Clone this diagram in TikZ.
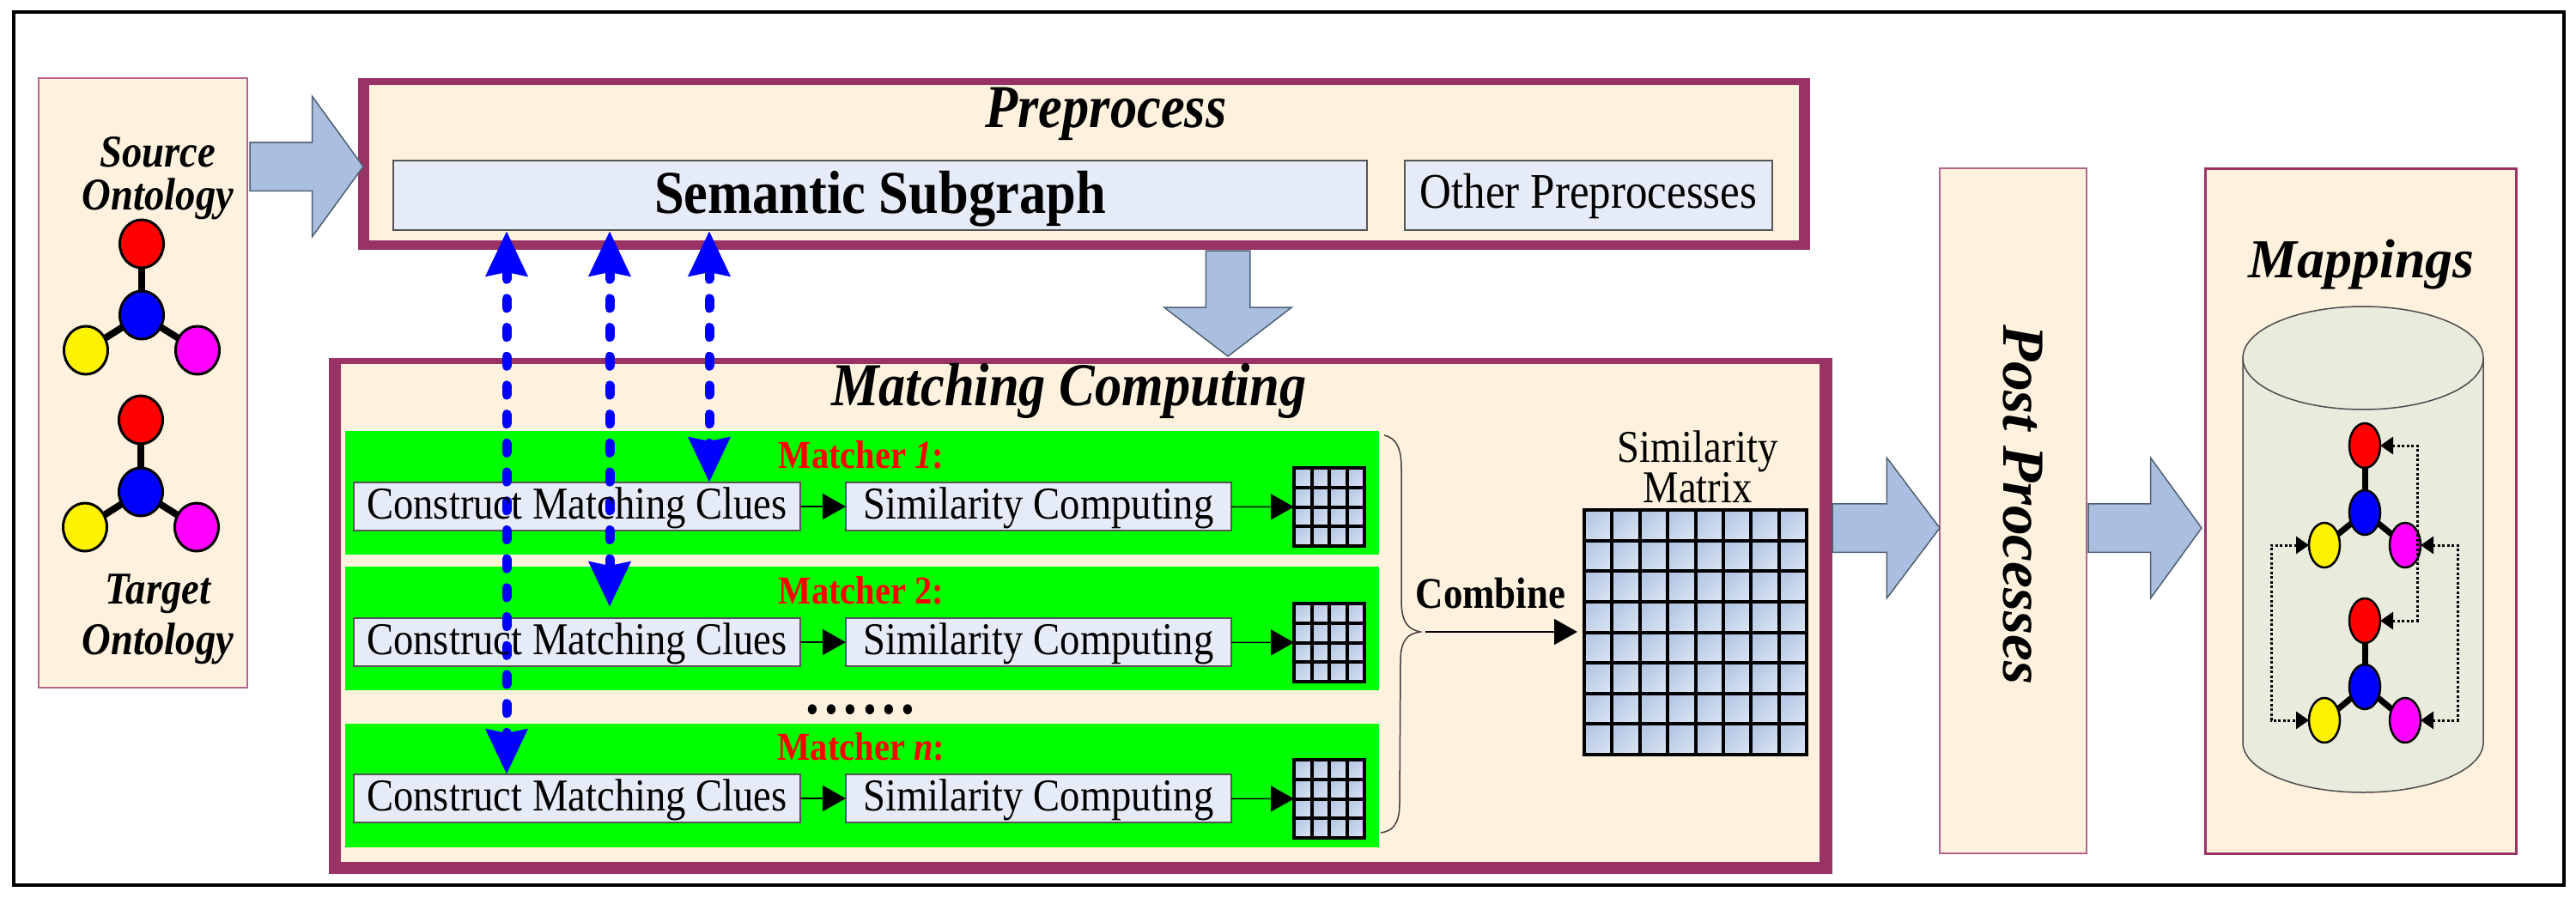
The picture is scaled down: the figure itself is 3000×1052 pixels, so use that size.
\documentclass[tikz,border=0pt]{standalone}
\usepackage{fontspec}
\usetikzlibrary{arrows.meta,calc,shapes.arrows,shapes.geometric}
\setmainfont[FakeStretch=0.88]{Liberation Serif}
\newfontfamily\widefont{Liberation Serif}
\definecolor{cream}{HTML}{FEF2DF}
\definecolor{plum}{HTML}{993366}
\definecolor{plumthin}{HTML}{B5648F}
\definecolor{steel}{HTML}{AABFE0}
\definecolor{steelline}{HTML}{4F5F72}
\definecolor{paleblue}{HTML}{E6ECF7}
\definecolor{boxline}{HTML}{555555}
\definecolor{storefill}{HTML}{E9EBDD}
\definecolor{celldark}{HTML}{B4C7E4}
\definecolor{celllight}{HTML}{D6E1F1}
\definecolor{pinkatom}{HTML}{FF00FF}
\begin{document}
\begin{tikzpicture}[
        x=1pt, y=-1pt, % one unit is one pixel of the reference
        every node/.style={outer sep=0pt, inner sep=0pt},
        corner/.style={anchor=north west},
        heavy/.style={corner, fill=plum}, % wide border, drawn as two rectangles
        heavyin/.style={corner, fill=cream},
        panel/.style={corner, draw=plumthin, line width=2.5pt, fill=cream},
        subbox/.style={corner, draw=boxline, line width=2pt, fill=paleblue, font=\fontsize{53}{53}\selectfont, text height=36pt, text depth=8pt},
        rowband/.style={corner, fill=green, minimum width=1204, minimum height=144},
        gridbox/.style={corner, draw=black, line width=4pt},
        gridcell/.style={draw=black, line width=4pt, top color=celldark, bottom color=celllight, shading angle=45},
        bigarrow/.style={single arrow, anchor=tip, draw=steelline, line width=1.5pt, fill=steel, inner ysep=27.5pt, single arrow head extend=53.5pt},
        dasharrow/.style={draw=blue, line width=11pt, line cap=round, dash pattern=on 11pt off 22.7pt,
                {Stealth[length=52pt, width=47pt, inset=4pt]}-{Stealth[length=52pt, width=47pt, inset=4pt]}},
        flow/.style={draw=black, line width=1.5pt, -{Triangle[length=27pt, width=30pt]}},
        linkarrow/.style={draw=black, line width=3pt, dash pattern=on 3pt off 2.5pt,
                {Triangle[length=15pt, width=20pt]}-{Triangle[length=15pt, width=20pt]}},
        atom/.style={ellipse, draw=black},
        title/.style={font=\fontsize{71}{71}\selectfont\bfseries\itshape},
        ontology/.style={align=center},
        matcher/.style={anchor=base, text=red, font=\fontsize{46}{46}\selectfont\bfseries},
    ]

    \useasboundingbox (0,0) rectangle (3000,1052);
    \node[corner, draw=black, line width=4pt, minimum width=2970, minimum height=1017] (frame) at (16,14) {};

    % left and right panels
    \node[panel, minimum width=243, minimum height=710] (onto) at (45,91) {};
    \node[panel, minimum width=171, minimum height=798] (post) at (2259,196) {};
    \node[panel, draw=plum, line width=3pt, minimum width=362, minimum height=798] (maps) at (2568,196) {};

    % preprocess
    \node[heavy, minimum width=1691, minimum height=200] (prep) at (417,91) {};
    \node[heavyin, minimum width=1665, minimum height=181] (prepin) at (430,99) {};
    \node[title] (preptitle) at (1288,133) {Preprocess};
    \node[subbox, minimum width=1134, minimum height=81, font=\fontsize{71}{71}\selectfont\bfseries, text height=50pt, text depth=9pt] (semantic) at (458,187) {Semantic Subgraph};
    \node[subbox, minimum width=428, minimum height=81, font=\fontsize{58}{58}\selectfont, text height=39pt, text depth=9pt] (other) at (1636,187) {Other Preprocesses};

    % matching computing
    \node[heavy, minimum width=1751, minimum height=601] (match) at (383,417) {};
    \node[heavyin, minimum width=1722, minimum height=580] (matchin) at (397,424) {};
    \node[title] (matchtitle) at (1245,455) {Matching Computing};

    \foreach \r/\by/\cy/\gy in {1/502/562/545, 2/660/720/703, 3/843/902/885} {
        \node[rowband] (band\r) at (402,\by) {};
        \node[subbox, minimum width=520, minimum height=56] (cons\r) at (412,\cy) {};
        \node[subbox, minimum width=449, minimum height=56] (simi\r) at (985,\cy) {Similarity Computing};
        \node[gridbox, minimum width=82, minimum height=91] (small\r) at (1507,\gy) {};
    }
    \node[gridbox, minimum width=259, minimum height=285] (bigm) at (1845,594) {};

    % all the grids, small ones and the large one
    \foreach \gx/\gy/\gw/\gh/\gn in {1507/545/20.5/22.75/3, 1507/703/20.5/22.75/3, 1507/885/20.5/22.75/3, 1845/594/32.375/35.625/7} {
        \foreach \i in {0,...,\gn} {
            \foreach \j in {0,...,\gn} {
                \draw[gridcell] (\gx+\i*\gw,\gy+\j*\gh) rectangle ++(\gw,\gh);
            }
        }
    }

    \foreach \r in {1,2,3} {
        \draw[flow] (cons\r) -- (simi\r);
        \draw[flow] (simi\r) -- (small\r);
    }

    % block arrows between the stages
    \node[bigarrow, minimum height=132, single arrow tip angle=108] (inarrow) at (423,194) {};
    \node[bigarrow, rotate=-90, minimum height=123, inner ysep=25pt, single arrow head extend=48.5pt, single arrow tip angle=105] (downarrow) at (1430,415) {};
    \node[bigarrow, minimum height=125, single arrow tip angle=106] (outarrow) at (2259,615) {};
    \node[bigarrow, minimum height=132, single arrow tip angle=108] (maparrow) at (2564,615) {};

    % links to the semantic subgraph
    \coordinate (linka) at (590,269);
    \coordinate (linkb) at (710,269);
    \coordinate (linkc) at (826,269);
    \draw[dasharrow] (linka) -- (linka |- cons3.north);
    \draw[dasharrow, shorten >=13pt] (linkb) -- (linkb |- cons2.north);
    \draw[dasharrow] (linkc) -- (linkc |- cons1.north);

    % text of the boxes comes over the links
    \foreach \r in {1,2,3} {
        \node[font=\fontsize{53}{53}\selectfont, text height=36pt, text depth=8pt] (text\r) at (cons\r) {Construct Matching Clues};
    }
    \node[matcher] (matcha) at (1003,545) {Matcher \textit{1}:};
    \node[matcher] (matchb) at (1003,703) {Matcher 2:};
    \node[matcher] (matchn) at (1003,885) {Matcher \textit{n}:};
    \node[font=\fontsize{72}{72}\selectfont\bfseries, anchor=base] (dots) at (1002,831) {\spaceskip=1.2pt . . . . . .};

    % brace and combine
    \draw[draw=black!75, line width=1.5pt] (1612,507) .. controls (1625,510) and (1632,520) .. (1632,545)
        -- (1632,700) .. controls (1632,725) and (1640,733) .. (1654,736)
        .. controls (1640,738) and (1631,745) .. (1631,770)
        -- (1630,935) .. controls (1630,960) and (1622,968) .. (1608,970);
    \coordinate (bracetip) at (1660,736);
    \draw[flow, shorten >=8pt] (bracetip) -- (bracetip -| bigm.west);
    \node[font=\fontsize{51}{51}\selectfont\bfseries] (combine) at (1736,691) {Combine};
    \node[align=center, font=\fontsize{53}{46}\selectfont] (simlabel) at (1977,544) {Similarity\\Matrix};

    % ontologies and mappings
    \node[ontology, font=\fontsize{53}{50}\selectfont\bfseries\itshape] (source) at (184,208) {Source\\Ontology};
    \node[ontology, font=\fontsize{53}{59}\selectfont\bfseries\itshape] (target) at (184,721) {Target\\Ontology};
    \node[rotate=-90, font=\widefont\fontsize{69.5}{69.5}\selectfont\bfseries\itshape] (posttext) at (2356,588) {Post Processes};
    \node[anchor=base, font=\widefont\fontsize{64}{64}\selectfont\bfseries\itshape] (mapstext) at (2750,323) {Mappings};

    % the store, open cylinder with its lid
    \draw[draw=black!70, line width=1.5pt, fill=storefill] (2612,417) -- (2612,865)
        arc[start angle=180, end angle=360, x radius=140pt, y radius=58pt] -- (2892,417)
        arc[start angle=0, end angle=180, x radius=140pt, y radius=60pt] -- cycle;
    \draw[draw=black!70, line width=1.5pt] (2612,417) arc[start angle=180, end angle=360, x radius=140pt, y radius=60pt];

    \foreach \mol/\mx/\my/\dx/\dy/\dz/\aw/\ah/\lw/\ew in {
        src/165/367/65/41/83/51/56/3/8, tgt/164/573/65/41/84/51/56/3/8,
        mapa/2754/597/47/38/78/36/52/2.5/7, mapb/2754/800/47/39/77/36/52/2.5/7} {
        \begin{scope}[every node/.append style={atom, line width=\lw pt, minimum width=\aw, minimum height=\ah}]
            \node[fill=blue] (\mol-b) at (\mx,\my) {};
            \node[fill=red] (\mol-r) at (\mx,\my-\dz) {};
            \node[fill=yellow] (\mol-y) at (\mx-\dx,\my+\dy) {};
            \node[fill=pinkatom] (\mol-m) at (\mx+\dx,\my+\dy) {};
        \end{scope}
        \foreach \a in {r,y,m} {
            \draw[line width=\ew pt] (\mol-b) -- (\mol-\a);
        }
    }

    \coordinate (loopr) at (2815,0);
    \coordinate (loopm) at (2862,0);
    \coordinate (loopy) at (2645,0);
    \draw[linkarrow] (mapa-r.east) -- (mapa-r.east -| loopr) -- (mapb-r.east -| loopr) -- (mapb-r.east);
    \draw[linkarrow] (mapa-m.east) -- (mapa-m.east -| loopm) -- (mapb-m.east -| loopm) -- (mapb-m.east);
    \draw[linkarrow] (mapa-y.west) -- (mapa-y.west -| loopy) -- (mapb-y.west -| loopy) -- (mapb-y.west);
\end{tikzpicture}
\end{document}
